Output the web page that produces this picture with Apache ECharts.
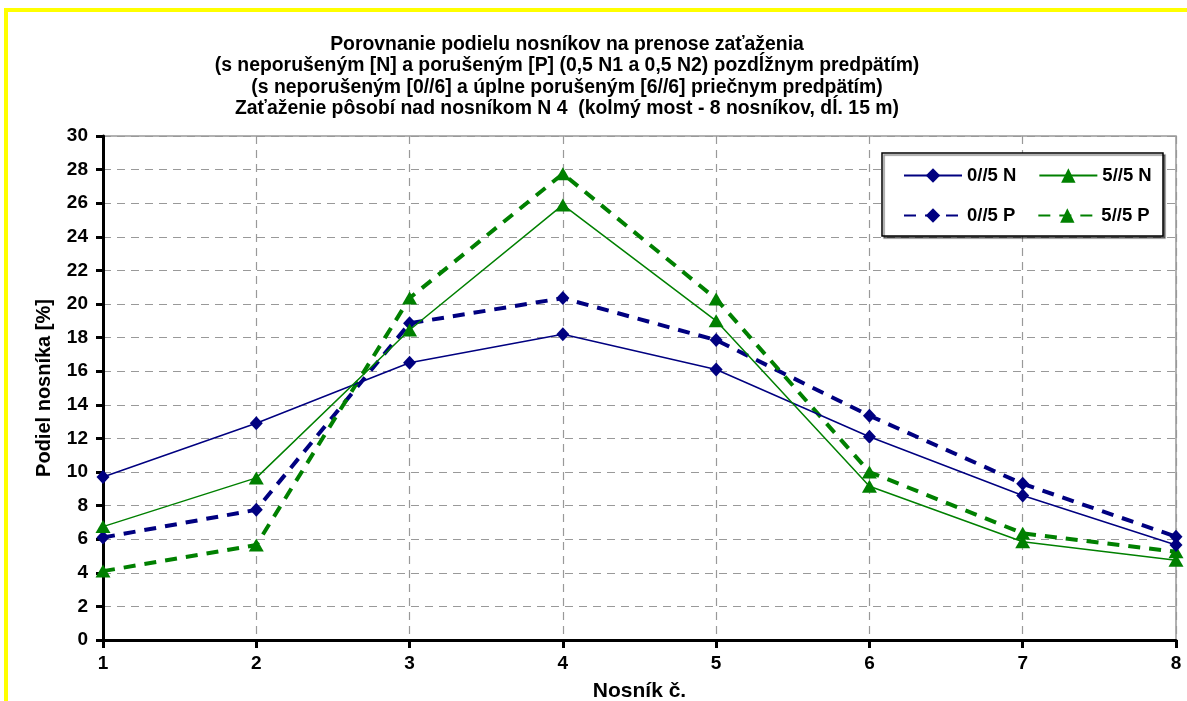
<!DOCTYPE html>
<html>
<head>
<meta charset="utf-8">
<style>
  html, body { margin: 0; padding: 0; background: #ffffff; }
  #chart { width: 1187px; height: 701px; }
</style>
<script src="https://cdn.jsdelivr.net/npm/echarts@6/dist/echarts.min.js"></script>
</head>
<body>
<div id="chart"></div>
<script>
// Girder numbers along the bridge cross-section
const girders = ['1', '2', '3', '4', '5', '6', '7', '8'];

// Share of the load carried by each girder [%]
const intactN0 = [9.7, 12.9, 16.5, 18.2, 16.1, 12.1, 8.6, 5.65];
const intactN5 = [6.75, 9.65, 18.45, 25.9, 19.0, 9.15, 5.85, 4.75];
const damagedP0 = [6.1, 7.75, 18.85, 20.35, 17.85, 13.35, 9.3, 6.15];
const damagedP5 = [4.1, 5.65, 20.35, 27.75, 20.3, 10.0, 6.35, 5.25];

const seriesNames = ['0//5 N', '5//5 N', '0//5 P', '5//5 P'];

const yTicks = { min: 0, max: 30, step: 2 };

const titleLines = [
  'Porovnanie podielu nosníkov na prenose zaťaženia',
  '(s neporušeným [N] a porušeným [P] (0,5 N1 a 0,5 N2) pozdĺžnym predpätím)',
  '(s neporušeným [0//6] a úplne porušeným [6//6] priečnym predpätím)',
  'Zaťaženie pôsobí nad nosníkom N 4  (kolmý most - 8 nosníkov, dĺ. 15 m)'
];

const NAVY = '#000080';
const GREEN = '#008000';
const FONT = 'Liberation Sans, Arial, sans-serif';

const chart = echarts.init(document.getElementById('chart'), null, { renderer: 'canvas' });

function lineSeries(name, data, color, dashed, symbol, size) {
  return {
    name: name,
    type: 'line',
    data: data,
    symbol: symbol,
    symbolSize: size,
    showAllSymbol: true,
    z: dashed ? 2 : 3,
    itemStyle: { color: color },
    lineStyle: dashed
      ? { color: color, width: 4, type: [12, 9] }
      : { color: color, width: 1.5, type: 'solid' },
    emphasis: { disabled: true },
    animation: false
  };
}

const legendCommon = {
  itemWidth: 58,
  itemHeight: 18,
  itemGap: 22,
  textStyle: { fontFamily: FONT, fontWeight: 'bold', fontSize: 18.5, color: '#000' },
  padding: 0,
  selectedMode: false
};

chart.setOption({
  backgroundColor: '#ffffff',
  animation: false,
  textStyle: { fontFamily: FONT },
  graphic: [
    {
      type: 'rect',
      shape: { x: 6, y: 10, width: 1240, height: 760 },
      style: { fill: 'none', stroke: '#ffff00', lineWidth: 4 },
      silent: true,
      z: -10
    },
    {
      type: 'text',
      x: 567,
      y: 34,
      style: {
        text: titleLines.join('\n'),
        textAlign: 'center',
        textVerticalAlign: 'top',
        font: 'bold 19.4px ' + FONT,
        lineHeight: 21.3,
        fill: '#000'
      },
      silent: true
    },
    {
      type: 'rect',
      shape: { x: 882, y: 153, width: 281, height: 83 },
      style: {
        fill: '#ffffff',
        stroke: '#000',
        lineWidth: 1.5,
        shadowColor: 'rgba(0,0,0,0.45)',
        shadowOffsetX: 2,
        shadowOffsetY: 2,
        shadowBlur: 1
      },
      silent: true,
      z: 5
    }
  ],
  legend: [
    Object.assign({ data: [seriesNames[0], seriesNames[1]], left: 903, top: 166, z: 10 }, legendCommon),
    Object.assign({ data: [seriesNames[2], seriesNames[3]], left: 903, top: 206, z: 10 }, legendCommon)
  ],
  grid: {
    left: 103,
    right: 11,
    top: 136,
    bottom: 61,
    outerBoundsMode: 'none',
    containLabel: false,
    show: true,
    borderColor: '#999',
    borderWidth: 1.5,
    backgroundColor: 'transparent'
  },
  xAxis: {
    type: 'category',
    data: girders,
    boundaryGap: false,
    name: 'Nosník č.',
    nameLocation: 'middle',
    nameGap: 41,
    nameTextStyle: { fontFamily: FONT, fontWeight: 'bold', fontSize: 21, color: '#000' },
    axisLine: { lineStyle: { color: '#000', width: 3 } },
    axisTick: { show: true, length: 8, lineStyle: { color: '#000', width: 3 } },
    axisLabel: { fontFamily: FONT, fontWeight: 'bold', fontSize: 19, color: '#000', margin: 14 },
    splitLine: { show: true, lineStyle: { color: '#999', width: 1.2, type: [8, 6] } }
  },
  yAxis: {
    type: 'value',
    min: yTicks.min,
    max: yTicks.max,
    interval: yTicks.step,
    name: 'Podiel nosníka [%]',
    nameLocation: 'middle',
    nameGap: 49,
    nameTextStyle: { fontFamily: FONT, fontWeight: 'bold', fontSize: 20, color: '#000' },
    axisLine: { show: true, lineStyle: { color: '#000', width: 3 } },
    axisTick: { show: true, length: 7, lineStyle: { color: '#000', width: 3 } },
    axisLabel: { fontFamily: FONT, fontWeight: 'bold', fontSize: 19, color: '#000', margin: 15 },
    splitLine: { show: true, lineStyle: { color: '#999', width: 1.2, type: [8, 6] } }
  },
  series: [
    lineSeries(seriesNames[2], damagedP0, NAVY, true, 'diamond', [13, 14]),
    lineSeries(seriesNames[3], damagedP5, GREEN, true, 'triangle', [15, 13]),
    lineSeries(seriesNames[0], intactN0, NAVY, false, 'diamond', [13, 14]),
    lineSeries(seriesNames[1], intactN5, GREEN, false, 'triangle', [15, 13])
  ]
});
</script>
</body>
</html>
